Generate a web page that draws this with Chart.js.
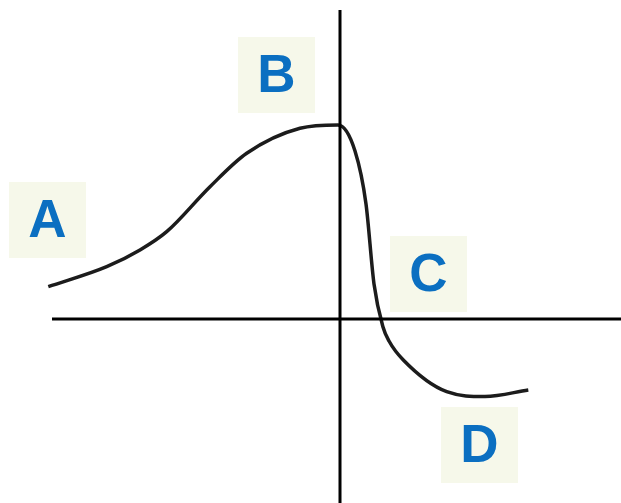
<!DOCTYPE html>
<html>
<head>
<meta charset="utf-8">
<script src="https://cdn.jsdelivr.net/npm/chart.js@4"></script>
<style>
  body { margin: 0; background: #fff; }
  canvas { display: block; }
</style>
</head>
<body>
<canvas id="myChart" width="621" height="503"></canvas>
<script>
// curve (origin where the axes cross)
const curveX = [-29.17, -23.33, -20, -17.33, -13, -9.33, -4, -0.2, 1.5, 2.6, 3.4, 4.3, 4.9, 6.33, 10.67, 14.5, 18.83];
const curveY = [3.23, 5.23, 6.9, 8.73, 13.23, 16.57, 19.07, 19.4, 16.8, 11.5, 3.5, -0.8, -2.2, -4.1, -7.27, -7.75, -7.1];

// letter labels and where they sit
const labels = ['A', 'B', 'C', 'D'];
const labelX = [-29.25, -6.35, 8.85, 13.95];
const labelY = [9.9, 24.4, 4.5, -12.6];

// the two axis lines
const xAxisLine = [{x: -28.8, y: 0}, {x: 28.1, y: 0}];
const yAxisLine = [{x: 0, y: 30.9}, {x: 0, y: -18.4}];

const curve = curveX.map((x, i) => ({x: x, y: curveY[i]}));

const labelBoxes = {
  id: 'labelBoxes',
  afterDatasetsDraw(chart) {
    const ctx = chart.ctx;
    const xs = chart.scales.x, ys = chart.scales.y;
    ctx.save();
    labels.forEach((t, i) => {
      const cx = xs.getPixelForValue(labelX[i]);
      const cy = ys.getPixelForValue(labelY[i]);
      ctx.fillStyle = '#f6f8ea';
      ctx.fillRect(cx - 38.5, cy - 38, 77, 76);
      ctx.fillStyle = '#0b6fc1';
      ctx.font = 'bold 53px "Liberation Sans", Arial, sans-serif';
      ctx.textAlign = 'center';
      ctx.textBaseline = 'middle';
      ctx.fillText(t, cx, cy + 2);
    });
    ctx.restore();
  }
};

new Chart(document.getElementById('myChart').getContext('2d'), {
  type: 'scatter',
  data: {
    datasets: [
      {
        data: xAxisLine,
        showLine: true,
        borderColor: '#000',
        borderWidth: 3,
        pointRadius: 0
      },
      {
        data: yAxisLine,
        showLine: true,
        borderColor: '#000',
        borderWidth: 3,
        pointRadius: 0
      },
      {
        data: curve,
        showLine: true,
        borderColor: '#1c1c1c',
        borderWidth: 3.5,
        pointRadius: 0,
        cubicInterpolationMode: 'monotone'
      }
    ]
  },
  options: {
    responsive: false,
    animation: false,
    layout: { padding: 0 },
    plugins: { legend: { display: false }, tooltip: { enabled: false } },
    scales: {
      x: { type: 'linear', display: false, min: -34, max: 28.1 },
      y: { type: 'linear', display: false, min: -18.4, max: 31.9 }
    }
  },
  plugins: [labelBoxes]
});
</script>
</body>
</html>
